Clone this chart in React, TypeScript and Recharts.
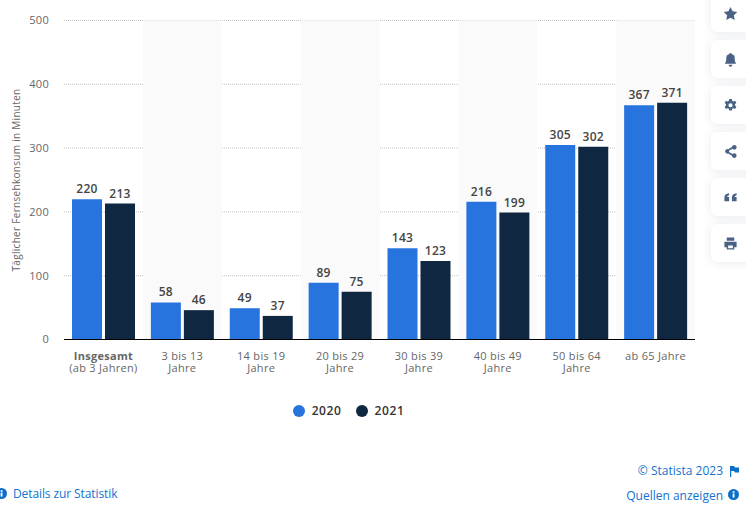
import { BarChart, Bar, XAxis, YAxis, CartesianGrid, Legend, LabelList, ReferenceArea } from "recharts";

const FONT = "'Open Sans', sans-serif";

const categories = [
  "Insgesamt (ab 3 Jahren)",
  "3 bis 13 Jahre",
  "14 bis 19 Jahre",
  "20 bis 29 Jahre",
  "30 bis 39 Jahre",
  "40 bis 49 Jahre",
  "50 bis 64 Jahre",
  "ab 65 Jahre",
];
const firstLine = ["Insgesamt", "3 bis 13", "14 bis 19", "20 bis 29", "30 bis 39", "40 bis 49", "50 bis 64", "ab 65 Jahre"];
const secondLine = ["(ab 3 Jahren)", "Jahre", "Jahre", "Jahre", "Jahre", "Jahre", "Jahre", ""];
const values2020 = [220, 58, 49, 89, 143, 216, 305, 367];
const values2021 = [213, 46, 37, 75, 123, 199, 302, 371];
const yTicks = [0, 100, 200, 300, 400, 500];
const shaded = ["3 bis 13 Jahre", "20 bis 29 Jahre", "40 bis 49 Jahre", "ab 65 Jahre"];

const data = categories.map((name, i) => ({ name, y2020: values2020[i], y2021: values2021[i] }));

function CategoryTick({ x, y, index }: any) {
  return (
    <text x={x} y={y + 12} fontFamily={FONT} fontSize={11} fill="#666" textAnchor="middle" letterSpacing={0.3}>
      <tspan x={x} fontWeight={index === 0 ? 700 : 400}>{firstLine[index]}</tspan>
      <tspan x={x} dy={12}>{secondLine[index]}</tspan>
    </text>
  );
}

function LegendRow({ payload }: any) {
  return (
    <div style={{ display: "flex", justifyContent: "center", gap: 14, fontFamily: FONT, fontSize: 12, fontWeight: 600, color: "#333", letterSpacing: 0.6 }}>
      {payload.map((p: any) => (
        <span key={p.value} style={{ display: "flex", alignItems: "center", gap: 7 }}>
          <span style={{ width: 12, height: 12, borderRadius: 6, background: p.color }} />
          {p.value}
        </span>
      ))}
    </div>
  );
}

const iconPaths = [
  "M8 1l2.2 4.6 5 .7-3.6 3.5.9 5L8 12.4l-4.5 2.4.9-5L.8 6.3l5-.7z",
  "M8 1a1.2 1.2 0 0 1 1.2 1.2A4.5 4.5 0 0 1 12.5 7c0 3 .6 4.4 1.7 5.5H1.8C2.9 11.4 3.5 10 3.5 7a4.5 4.5 0 0 1 3.3-4.8A1.2 1.2 0 0 1 8 1zM6 13.7h4a2 2 0 0 1-4 0z",
  "M6.6 1h2.8l.4 2 1.2.6 1.9-.8 1.4 2.4-1.5 1.3v1.4l1.5 1.3-1.4 2.4-1.9-.8-1.2.6-.4 2H6.6l-.4-2-1.2-.6-1.9.8L1.700 9.2l1.500-1.300V6.500L1.700 5.200l1.400-2.400 1.900.8 1.200-.6zM8 5.500a2.200 2.200 0 1 0 0 4.400 2.200 2.200 0 0 0 0-4.400z",
  "M12 1a2.500 2.500 0 1 1-1.900 4.100L6.400 7.200a2.500 2.500 0 0 1 0 1.300l3.700 2.200A2.500 2.500 0 1 1 9.500 12.500L5.600 10.200a2.500 2.500 0 1 1 0-4.700l3.900-2.200A2.500 2.500 0 0 1 12 1z",
  "M6.500 3.500v2C5 5.700 4.500 6.500 4.400 7.500h2.100V12H1.500V8c0-2.700 1.800-4.300 5-4.500zM14.500 3.500v2c-1.500.2-2 1-2.100 2h2.100V12h-5V8c0-2.700 1.800-4.300 5-4.500z",
  "M4 1.500h8V5H4zM1.500 6h13v6H12v2.500H4V12H1.500zM5.500 10v3h5v-3z",
];
const buttonTops = [-6, 40, 86, 132, 178, 224];

function SideButtons() {
  return (
    <>
      {iconPaths.map((d, i) => (
        <div key={i} style={{ position: "absolute", left: 711, top: buttonTops[i], width: 50, height: 38, borderRadius: 6, background: "#fff", boxShadow: "0 1px 10px rgba(70,90,130,0.12)" }}>
          <svg width={15} height={15} viewBox="0 0 16 16" style={{ position: "absolute", left: 12, top: 12 }}>
            <path d={d} fill="#4a6283" fillRule="evenodd" />
          </svg>
        </div>
      ))}
    </>
  );
}

function InfoDot({ left, top }: { left: number; top: number }) {
  return (
    <svg width={11} height={11} viewBox="0 0 10 10" style={{ position: "absolute", left, top }}>
      <circle cx={5} cy={5} r={5} fill="#0b6fc9" />
      <rect x={4.2} y={4.2} width={1.700} height={3.600} fill="#fff" />
      <rect x={4.2} y={2} width={1.700} height={1.500} fill="#fff" />
    </svg>
  );
}

const linkStyle = { position: "absolute", fontFamily: FONT, fontSize: 12, color: "#1272d0", whiteSpace: "nowrap", lineHeight: "16px" } as const;

export default function App() {
  return (
    <div style={{ position: "absolute", left: 0, top: 0, width: 746, height: 509, overflow: "hidden", background: "#fff" }}>
      <BarChart
        width={695}
        height={509}
        data={data}
        margin={{ top: 20.5, right: 0, bottom: 109.5, left: 0 }}
        barCategoryGap={8}
        barGap={3}
        barSize={30}
      >
        {shaded.map((c) => (
          <ReferenceArea key={c} x1={c} x2={c} y1={0} y2={500} fill="#fafafa" fillOpacity={1} stroke="none" />
        ))}
        <CartesianGrid horizontal vertical={false} stroke="#c4c4c4" strokeDasharray="1 1" />
        <XAxis
          dataKey="name"
          height={60}
          interval={0}
          tick={<CategoryTick />}
          tickLine={false}
          axisLine={{ stroke: "#000", strokeWidth: 1 }}
        />
        <YAxis
          width={64}
          domain={[0, 500]}
          ticks={yTicks}
          tickLine={false}
          axisLine={false}
          tickMargin={9}
          tick={{ fontFamily: FONT, fontSize: 11, fill: "#666", letterSpacing: 0.3 }}
          label={{ value: "Täglicher Fernsehkonsum in Minuten", angle: -90, position: "insideLeft", offset: 16, style: { textAnchor: "middle", fontFamily: FONT, fontSize: 10, fill: "#666", letterSpacing: 0.3 } }}
        />
        <Legend
          content={<LegendRow />}
          wrapperStyle={{ position: "absolute", left: 0, top: 402, width: 697, height: 0 }}
        />
        <Bar dataKey="y2020" name="2020" fill="#2774de" isAnimationActive={false}>
          <LabelList dataKey="y2020" position="top" offset={6} style={{ fontFamily: FONT, fontSize: 12, fontWeight: 600, fill: "#444", letterSpacing: 0.3 }} />
        </Bar>
        <Bar dataKey="y2021" name="2021" fill="#0f2740" isAnimationActive={false}>
          <LabelList dataKey="y2021" position="top" offset={6} style={{ fontFamily: FONT, fontSize: 12, fontWeight: 600, fill: "#444", letterSpacing: 0.3 }} />
        </Bar>
      </BarChart>
      <SideButtons />
      <div style={{ ...linkStyle, right: 23, top: 463 }}>© Statista 2023</div>
      <svg width={9} height={11} viewBox="0 0 9 11" style={{ position: "absolute", left: 730, top: 466 }}>
        <path d="M0 0h4l1 1.500h4v5H5l-1-1.500H1.200V11H0z" fill="#0b6fc9" />
      </svg>
      <div style={{ ...linkStyle, right: 23, top: 488 }}>Quellen anzeigen</div>
      <InfoDot left={728} top={489} />
      <InfoDot left={-4} top={488} />
      <div style={{ ...linkStyle, left: 13, top: 486, letterSpacing: -0.1 }}>Details zur Statistik</div>
    </div>
  );
}
